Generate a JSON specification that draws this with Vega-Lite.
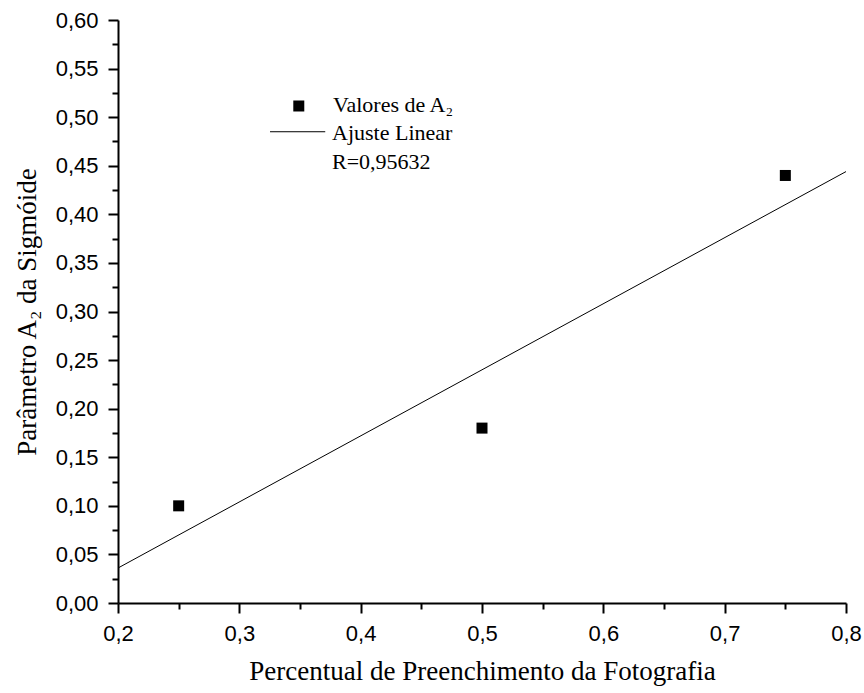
{
  "$schema": "https://vega.github.io/schema/vega-lite/v6.json",
  "width": 728,
  "height": 583,
  "autosize": {"type": "none"},
  "padding": {"left": 118, "top": 20, "right": 18, "bottom": 90},
  "background": "white",
  "config": {
    "view": {"stroke": null},
    "axis": {
      "domainColor": "black",
      "domainWidth": 2,
      "tickColor": "black",
      "tickWidth": 2,
      "labelFont": "Liberation Sans",
      "labelFontSize": 22,
      "labelColor": "black",
      "titleFont": "Liberation Serif",
      "titleFontSize": 27,
      "titleFontWeight": "normal",
      "titleColor": "black",
      "grid": false,
      "labelOverlap": false,
      "labelFlush": false
    }
  },
  "encoding": {
    "x": {
      "field": "x",
      "type": "quantitative",
      "scale": {"domain": [0.2, 0.8], "nice": false, "zero": false},
      "axis": {
        "title": "Percentual de Preenchimento da Fotografia",
        "values": [0.2, 0.25, 0.3, 0.35, 0.4, 0.45, 0.5, 0.55, 0.6, 0.65, 0.7, 0.75, 0.8],
        "labelExpr": "abs(datum.value*10-round(datum.value*10))<1e-6 ? replace(format(datum.value,'.1f'),'.',',') : ''",
        "tickSize": {"condition": {"test": "abs(datum.value*10-round(datum.value*10))<1e-6", "value": 10}, "value": 6},
        "labelPadding": 10,
        "titlePadding": 14
      }
    },
    "y": {
      "field": "y",
      "type": "quantitative",
      "scale": {"domain": [0, 0.6], "nice": false, "zero": true},
      "axis": {
        "title": "Parâmetro A₂ da Sigmóide",
        "values": [0, 0.025, 0.05, 0.075, 0.1, 0.125, 0.15, 0.175, 0.2, 0.225, 0.25, 0.275, 0.3, 0.325, 0.35, 0.375, 0.4, 0.425, 0.45, 0.475, 0.5, 0.525, 0.55, 0.575, 0.6],
        "labelExpr": "abs(datum.value*20-round(datum.value*20))<1e-6 ? replace(format(datum.value,'.2f'),'.',',') : ''",
        "tickSize": {"condition": {"test": "abs(datum.value*20-round(datum.value*20))<1e-6", "value": 10}, "value": 6},
        "labelPadding": 10,
        "titlePadding": 14
      }
    }
  },
  "layer": [
    {
      "data": {"values": [{"x": 0.2, "y": 0.036}, {"x": 0.8, "y": 0.444}]},
      "mark": {"type": "line", "color": "black", "strokeWidth": 1}
    },
    {
      "data": {"values": [{"x": 0.25, "y": 0.10}, {"x": 0.5, "y": 0.18}, {"x": 0.75, "y": 0.44}]},
      "mark": {"type": "point", "shape": "square", "filled": true, "color": "black", "size": 121, "opacity": 1}
    },
    {
      "data": {"values": [{"x": 0.349, "y": 0.5115}]},
      "mark": {"type": "point", "shape": "square", "filled": true, "color": "black", "size": 121, "opacity": 1}
    },
    {
      "data": {"values": [{"x": 0.3253, "y": 0.485}, {"x": 0.3708, "y": 0.485}]},
      "mark": {"type": "line", "color": "black", "strokeWidth": 1}
    },
    {
      "data": {"values": [
        {"x": 0.3772, "y": 0.5125, "label": "Valores de A₂"},
        {"x": 0.3764, "y": 0.4837, "label": "Ajuste Linear"},
        {"x": 0.3764, "y": 0.4539, "label": "R=0,95632"}
      ]},
      "mark": {"type": "text", "align": "left", "baseline": "middle", "font": "Liberation Serif", "fontSize": 22, "color": "black"},
      "encoding": {"text": {"field": "label"}}
    }
  ]
}
